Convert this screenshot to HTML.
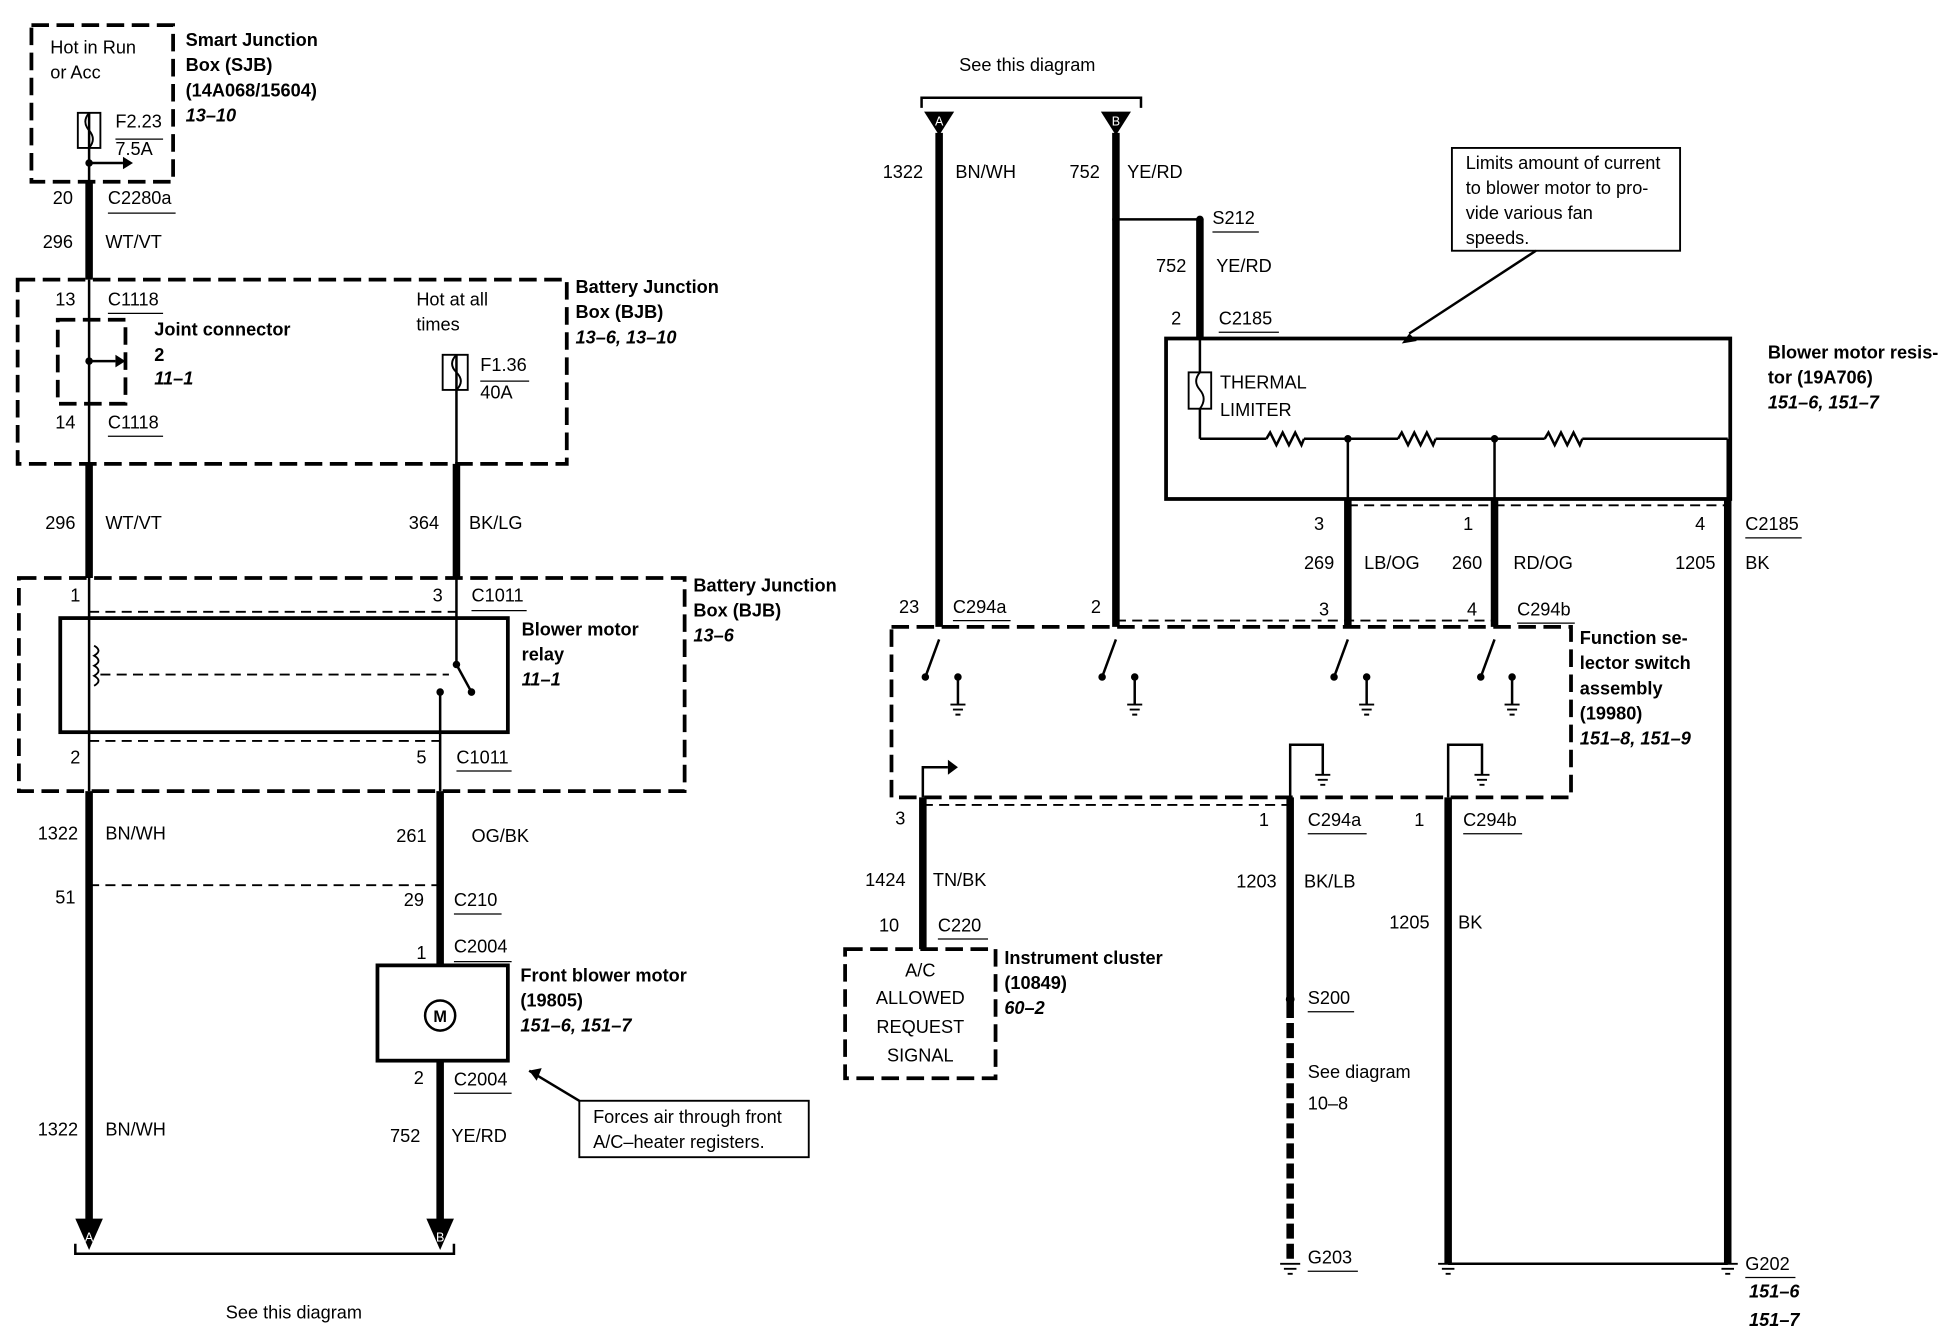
<!DOCTYPE html>
<html><head><meta charset="utf-8"><style>
html,body{margin:0;padding:0;background:#fff;width:1956px;height:1344px;overflow:hidden}
text{font-family:"Liberation Sans",Arial,sans-serif;font-size:14.5px;fill:#000;dominant-baseline:central}
.b{font-weight:bold}.i{font-style:italic;font-weight:bold}
</style></head><body>
<svg width="1956" height="1344" viewBox="0 0 1560 1072" xmlns="http://www.w3.org/2000/svg">
<g fill="none" stroke="#000">
<!-- dashed boxes -->
<g stroke-width="3" stroke-dasharray="14,6">
<rect x="25" y="20" width="113" height="125"/>
<rect x="14" y="223" width="438" height="147"/>
<rect x="46" y="255" width="54" height="67"/>
<rect x="15" y="461" width="531" height="170"/>
<rect x="711" y="500" width="542" height="136"/>
<rect x="674" y="757" width="120" height="103"/>
</g>
<!-- thin dashed connector lines -->
<g stroke-width="1.5" stroke-dasharray="8,5">
<line x1="71" y1="488" x2="364" y2="488"/>
<line x1="71" y1="591" x2="351" y2="591"/>
<line x1="71" y1="706" x2="351" y2="706"/>
<line x1="80" y1="538" x2="358" y2="538"/>
<line x1="890" y1="495" x2="1192" y2="495"/>
<line x1="1075" y1="403" x2="1378" y2="403"/>
<line x1="736" y1="642" x2="1029" y2="642"/>
</g>
<!-- thick wires -->
<g stroke-width="6">
<line x1="71" y1="145" x2="71" y2="223"/>
<line x1="71" y1="370" x2="71" y2="461"/>
<line x1="71" y1="631" x2="71" y2="975"/>
<line x1="364" y1="370" x2="364" y2="461"/>
<line x1="351" y1="631" x2="351" y2="770"/>
<line x1="351" y1="846" x2="351" y2="975"/>
<line x1="749" y1="106" x2="749" y2="500"/>
<line x1="890" y1="106" x2="890" y2="500"/>
<line x1="957" y1="175" x2="957" y2="270"/>
<line x1="1075" y1="398" x2="1075" y2="500"/>
<line x1="1192" y1="398" x2="1192" y2="500"/>
<line x1="1378" y1="398" x2="1378" y2="1008"/>
<line x1="736" y1="636" x2="736" y2="757"/>
<line x1="1029" y1="636" x2="1029" y2="800"/>
<line x1="1029" y1="800" x2="1029" y2="1005" stroke-dasharray="12,4"/>
<line x1="1155" y1="636" x2="1155" y2="1008"/>
</g>
<!-- thin wires -->
<g stroke-width="2">
<line x1="71" y1="90" x2="71" y2="145"/>
<line x1="71" y1="223" x2="71" y2="370"/>
<line x1="71" y1="130" x2="98" y2="130"/>
<line x1="71" y1="288" x2="92" y2="288"/>
<line x1="364" y1="283" x2="364" y2="370"/>
<line x1="71" y1="461" x2="71" y2="631"/>
<line x1="364" y1="461" x2="364" y2="530"/>
<line x1="364" y1="530" x2="376" y2="552"/>
<line x1="351" y1="552" x2="351" y2="631"/>
<line x1="890" y1="175" x2="957" y2="175"/>
<line x1="957" y1="270" x2="957" y2="297"/>
<line x1="957" y1="326" x2="957" y2="350"/>
<line x1="957" y1="350" x2="1010" y2="350"/><line x1="1040" y1="350" x2="1115" y2="350"/>
<line x1="1145" y1="350" x2="1232" y2="350"/><line x1="1262" y1="350" x2="1378" y2="350"/>
<line x1="1378" y1="350" x2="1378" y2="398"/>
<line x1="1075" y1="350" x2="1075" y2="398"/><line x1="1192" y1="350" x2="1192" y2="398"/>
<polyline points="1010,350 1013,345 1018,355 1023,345 1028,355 1033,345 1038,355 1040,350"/>
<polyline points="1115,350 1118,345 1123,355 1128,345 1133,355 1138,345 1143,355 1145,350"/>
<polyline points="1232,350 1235,345 1240,355 1245,345 1250,355 1255,345 1260,355 1262,350"/>
<polyline points="736,636 736,612 756,612"/>
<polyline points="1029,636 1029,594 1055,594 1055,618"/>
<polyline points="1155,636 1155,594 1182,594 1182,618"/>
<line x1="1155" y1="1008" x2="1378" y2="1008"/>
<line x1="462" y1="878" x2="422" y2="854"/>
<line x1="1225" y1="200" x2="1124" y2="266"/>
<!-- brackets -->
<polyline points="60,992 60,1000 362,1000 362,992"/>
<polyline points="735,86 735,78 910,78 910,86"/>
</g>
<!-- switches in selector -->
<g stroke-width="2">
<line x1="749" y1="510" x2="738" y2="540"/><line x1="890" y1="510" x2="879" y2="540"/>
<line x1="1075" y1="510" x2="1064" y2="540"/><line x1="1192" y1="510" x2="1181" y2="540"/>
<line x1="764" y1="540" x2="764" y2="562"/><line x1="905" y1="540" x2="905" y2="562"/>
<line x1="1090" y1="540" x2="1090" y2="562"/><line x1="1206" y1="540" x2="1206" y2="562"/>
</g>
<!-- solid boxes -->
<g stroke-width="3">
<rect x="48" y="493" width="357" height="91"/>
<rect x="301" y="770" width="104" height="76"/>
<rect x="930" y="270" width="450" height="128"/>
</g>
<g stroke-width="1.5">
<rect x="462" y="878" width="183" height="45"/>
<rect x="1158" y="118" width="182" height="82"/>
<rect x="62" y="90" width="18" height="28"/>
<rect x="353" y="283" width="20" height="28"/>
<rect x="948" y="297" width="18" height="29"/>
<path d="M71,90 q-6,7 0,14 q6,7 0,14"/>
<path d="M364,283 q-7,7 0,14 q7,7 0,14"/>
<path d="M957,297 q-6,7 0,14 q6,7 0,15"/>
<path d="M75,515 q7,4 0,8 q7,4 0,8 q7,4 0,8 q7,4 0,8"/>
<circle cx="351" cy="810" r="12" stroke-width="2"/>
</g>
<!-- ground symbols -->
<g stroke-width="1.5">
<path d="M758,562h12M760,566h8M762,570h4"/><path d="M899,562h12M901,566h8M903,570h4"/>
<path d="M1084,562h12M1086,566h8M1088,570h4"/><path d="M1200,562h12M1202,566h8M1204,570h4"/>
<path d="M1049,618h12M1051,622h8M1053,626h4"/><path d="M1176,618h12M1178,622h8M1180,626h4"/>
<path d="M1021,1008h16M1024,1012h10M1027,1016h4"/><path d="M1147,1008h16M1150,1012h10M1153,1016h4"/>
<path d="M1370,1008h16M1373,1012h10M1376,1016h4"/>
</g>
<!-- underlines -->
<g stroke-width="1">
<line x1="86" y1="170" x2="140" y2="170"/><line x1="86" y1="250" x2="130" y2="250"/>
<line x1="86" y1="348" x2="130" y2="348"/><line x1="92" y1="111" x2="130" y2="111"/>
<line x1="383" y1="304" x2="422" y2="304"/><line x1="376" y1="487" x2="420" y2="487"/>
<line x1="364" y1="615" x2="408" y2="615"/><line x1="362" y1="729" x2="400" y2="729"/>
<line x1="362" y1="767" x2="408" y2="767"/><line x1="362" y1="872" x2="408" y2="872"/>
<line x1="967" y1="185" x2="1004" y2="185"/><line x1="972" y1="265" x2="1020" y2="265"/>
<line x1="1392" y1="429" x2="1437" y2="429"/><line x1="760" y1="495" x2="806" y2="495"/>
<line x1="1210" y1="497" x2="1256" y2="497"/><line x1="1043" y1="665" x2="1090" y2="665"/>
<line x1="1167" y1="665" x2="1214" y2="665"/><line x1="748" y1="749" x2="788" y2="749"/>
<line x1="1043" y1="807" x2="1080" y2="807"/><line x1="1043" y1="1014" x2="1083" y2="1014"/>
<line x1="1392" y1="1019" x2="1432" y2="1019"/>
</g>
</g>
<!-- filled items -->
<g fill="#000">
<polygon points="98,125 106,130 98,135"/><polygon points="92,283 100,288 92,293"/>
<circle cx="71" cy="130" r="3"/><circle cx="71" cy="288" r="3"/>
<circle cx="364" cy="530" r="3"/><circle cx="376" cy="552" r="3"/><circle cx="351" cy="552" r="3"/>
<circle cx="890" cy="175" r="3"/><circle cx="957" cy="175" r="3"/>
<circle cx="1075" cy="350" r="3"/><circle cx="1192" cy="350" r="3"/>
<circle cx="1029" cy="797" r="3.5"/>
<polygon points="756,606 764,612 756,618"/>
<polygon points="60,972 82,972 71,997"/><polygon points="340,972 362,972 351,997"/>
<polygon points="737,89 761,89 749,108"/><polygon points="878,89 902,89 890,108"/>
<polygon points="1124,266 1118,274 1130,272"/><polygon points="422,854 428,862 432,852"/>
<g fill="#000"><circle cx="738" cy="540" r="3"/><circle cx="879" cy="540" r="3"/><circle cx="1064" cy="540" r="3"/><circle cx="1181" cy="540" r="3"/>
<circle cx="764" cy="540" r="3"/><circle cx="905" cy="540" r="3"/><circle cx="1090" cy="540" r="3"/><circle cx="1206" cy="540" r="3"/></g>
</g>
<text x="71" y="987" style="fill:#fff;font-size:10px" text-anchor="middle">A</text>
<text x="351" y="987" style="fill:#fff;font-size:10px" text-anchor="middle">B</text>
<text x="749" y="97" style="fill:#fff;font-size:10px" text-anchor="middle">A</text>
<text x="890" y="97" style="fill:#fff;font-size:10px" text-anchor="middle">B</text>
<text x="351" y="811" class="b" text-anchor="middle" style="font-size:13px">M</text>
<!-- text left -->
<text x="40" y="38">Hot in Run</text><text x="40" y="58">or Acc</text>
<text x="92" y="97">F2.23</text><text x="92" y="119">7.5A</text>
<text x="148" y="32" class="b">Smart Junction</text><text x="148" y="52" class="b">Box (SJB)</text>
<text x="148" y="72" class="b">(14A068/15604)</text><text x="148" y="92" class="i">13–10</text>
<text x="42" y="158">20</text><text x="86" y="158">C2280a</text>
<text x="34" y="193">296</text><text x="84" y="193">WT/VT</text>
<text x="44" y="239">13</text><text x="86" y="239">C1118</text>
<text x="123" y="263" class="b">Joint connector</text><text x="123" y="283" class="b">2</text><text x="123" y="302" class="i">11–1</text>
<text x="44" y="337">14</text><text x="86" y="337">C1118</text>
<text x="332" y="239">Hot at all</text><text x="332" y="259">times</text>
<text x="383" y="291">F1.36</text><text x="383" y="313">40A</text>
<text x="459" y="229" class="b">Battery Junction</text><text x="459" y="249" class="b">Box (BJB)</text><text x="459" y="269" class="i">13–6, 13–10</text>
<text x="36" y="417">296</text><text x="84" y="417">WT/VT</text>
<text x="326" y="417">364</text><text x="374" y="417">BK/LG</text>
<text x="56" y="475">1</text><text x="345" y="475">3</text><text x="376" y="475">C1011</text>
<text x="416" y="502" class="b">Blower motor</text><text x="416" y="522" class="b">relay</text><text x="416" y="542" class="i">11–1</text>
<text x="553" y="467" class="b">Battery Junction</text><text x="553" y="487" class="b">Box (BJB)</text><text x="553" y="507" class="i">13–6</text>
<text x="56" y="604">2</text><text x="332" y="604">5</text><text x="364" y="604">C1011</text>
<text x="30" y="665">1322</text><text x="84" y="665">BN/WH</text>
<text x="316" y="667">261</text><text x="376" y="667">OG/BK</text>
<text x="44" y="716">51</text><text x="322" y="718">29</text><text x="362" y="718">C210</text>
<text x="332" y="760">1</text><text x="362" y="755">C2004</text>
<text x="415" y="778" class="b">Front blower motor</text><text x="415" y="798" class="b">(19805)</text><text x="415" y="818" class="i">151–6, 151–7</text>
<text x="330" y="860">2</text><text x="362" y="861">C2004</text>
<text x="473" y="891">Forces air through front</text><text x="473" y="911">A/C–heater registers.</text>
<text x="30" y="901">1322</text><text x="84" y="901">BN/WH</text>
<text x="311" y="906">752</text><text x="360" y="906">YE/RD</text>
<text x="180" y="1047">See this diagram</text>
<!-- text right -->
<text x="765" y="52">See this diagram</text>
<text x="704" y="137">1322</text><text x="762" y="137">BN/WH</text>
<text x="853" y="137">752</text><text x="899" y="137">YE/RD</text>
<text x="967" y="174">S212</text>
<text x="922" y="212">752</text><text x="970" y="212">YE/RD</text>
<text x="934" y="254">2</text><text x="972" y="254">C2185</text>
<text x="1169" y="130">Limits amount of current</text><text x="1169" y="150">to blower motor to pro-</text>
<text x="1169" y="170">vide various fan</text><text x="1169" y="190">speeds.</text>
<text x="973" y="305">THERMAL</text><text x="973" y="327">LIMITER</text>
<text x="1410" y="281" class="b">Blower motor resis-</text><text x="1410" y="301" class="b">tor (19A706)</text><text x="1410" y="321" class="i">151–6, 151–7</text>
<text x="1048" y="418">3</text><text x="1167" y="418">1</text><text x="1352" y="418">4</text><text x="1392" y="418">C2185</text>
<text x="1040" y="449">269</text><text x="1088" y="449">LB/OG</text>
<text x="1158" y="449">260</text><text x="1207" y="449">RD/OG</text>
<text x="1336" y="449">1205</text><text x="1392" y="449">BK</text>
<text x="717" y="484">23</text><text x="760" y="484">C294a</text><text x="870" y="484">2</text>
<text x="1052" y="486">3</text><text x="1170" y="486">4</text><text x="1210" y="486">C294b</text>
<text x="1260" y="509" class="b">Function se-</text><text x="1260" y="529" class="b">lector switch</text>
<text x="1260" y="549" class="b">assembly</text><text x="1260" y="569" class="b">(19980)</text><text x="1260" y="589" class="i">151–8, 151–9</text>
<text x="714" y="653">3</text><text x="1004" y="654">1</text><text x="1043" y="654">C294a</text>
<text x="1128" y="654">1</text><text x="1167" y="654">C294b</text>
<text x="690" y="702">1424</text><text x="744" y="702">TN/BK</text>
<text x="986" y="703">1203</text><text x="1040" y="703">BK/LB</text>
<text x="1108" y="736">1205</text><text x="1163" y="736">BK</text>
<text x="701" y="738">10</text><text x="748" y="738">C220</text>
<text x="734" y="774" text-anchor="middle">A/C</text><text x="734" y="796" text-anchor="middle">ALLOWED</text>
<text x="734" y="819" text-anchor="middle">REQUEST</text><text x="734" y="842" text-anchor="middle">SIGNAL</text>
<text x="801" y="764" class="b">Instrument cluster</text><text x="801" y="784" class="b">(10849)</text><text x="801" y="804" class="i">60–2</text>
<text x="1043" y="796">S200</text>
<text x="1043" y="855">See diagram</text><text x="1043" y="880">10–8</text>
<text x="1043" y="1003">G203</text>
<text x="1392" y="1008">G202</text><text x="1395" y="1030" class="i">151–6</text><text x="1395" y="1053" class="i">151–7</text>
</svg>
</body></html>
